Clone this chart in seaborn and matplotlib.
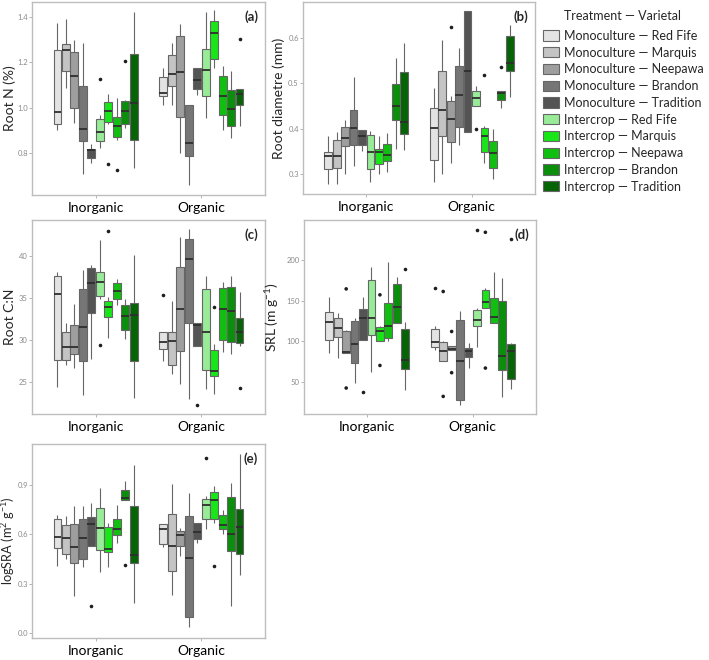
import matplotlib
matplotlib.use("Agg")
import matplotlib.pyplot as plt
from matplotlib.patches import Patch

## Import seaborn
import seaborn as sns
import pandas as pd

sns.set_theme(style="white")
# fonts have to be set after the theme
plt.rcParams['font.family'] = ['Lato', 'DejaVu Sans']
plt.rcParams['mathtext.default'] = 'regular'

ferts = ["Inorganic", "Organic"]
groups = ["Monoculture — Red Fife", "Monoculture — Marquis", "Monoculture — Neepawa",
          "Monoculture — Brandon", "Monoculture — Tradition",
          "Intercrop — Red Fife", "Intercrop — Marquis", "Intercrop — Neepawa",
          "Intercrop — Brandon", "Intercrop — Tradition"]
colours = ["#e3e3e3", "#c4c4c4", "#9e9e9e", "#767676", "#545454",
           "#98ec98", "#19e619", "#11bf11", "#0b8e0b", "#066406"]

## boxes: [lower whisker, Q1, median, Q3, upper whisker]
rootN_inorg = [[0.901, 0.928, 0.980, 1.256, 1.373], [1.087, 1.162, 1.256, 1.280, 1.393],
               [0.931, 0.998, 1.140, 1.248, 1.300], [0.705, 0.853, 0.904, 1.095, 1.285],
               [0.756, 0.775, 0.810, 0.817, 0.839], [0.820, 0.853, 0.891, 0.950, 0.968],
               [0.925, 0.934, 0.986, 1.023, 1.058], [0.856, 0.868, 0.919, 0.958, 1.040],
               [0.910, 0.926, 0.983, 1.028, 1.035], [0.730, 0.856, 1.020, 1.239, 1.425]]
rootN_org = [[1.013, 1.050, 1.065, 1.137, 1.177], [1.013, 1.095, 1.147, 1.233, 1.288],
             [0.797, 0.958, 1.157, 1.318, 1.370], [0.655, 0.785, 0.844, 1.013, 1.013],
             [1.057, 1.083, 1.122, 1.177, 1.177], [0.953, 1.050, 1.165, 1.261, 1.422],
             [1.177, 1.217, 1.329, 1.382, 1.434], [0.901, 0.965, 1.050, 1.142, 1.184],
             [0.864, 0.920, 0.995, 1.077, 1.162], [0.916, 1.010, 1.060, 1.083, 1.083]]
# outliers: (fertiliser, group index, value)
rootN_out = [("Inorganic", 5, 1.125), ("Inorganic", 6, 0.750), ("Inorganic", 7, 0.723),
             ("Inorganic", 8, 1.205), ("Organic", 9, 1.306)]

diam_inorg = [[0.277, 0.311, 0.339, 0.348, 0.383], [0.279, 0.313, 0.339, 0.374, 0.392],
              [0.299, 0.361, 0.379, 0.403, 0.419], [0.318, 0.363, 0.402, 0.441, 0.514],
              [0.350, 0.363, 0.384, 0.397, 0.397], [0.282, 0.310, 0.348, 0.386, 0.394],
              [0.301, 0.322, 0.348, 0.356, 0.383], [0.304, 0.328, 0.342, 0.367, 0.390],
              [0.355, 0.419, 0.450, 0.498, 0.555], [0.353, 0.389, 0.414, 0.524, 0.588]]
diam_org = [[0.283, 0.330, 0.401, 0.445, 0.489], [0.301, 0.383, 0.441, 0.527, 0.595],
            [0.324, 0.370, 0.422, 0.460, 0.471], [0.364, 0.403, 0.474, 0.538, 0.577],
            [0.392, 0.392, 0.527, 0.659, 0.659], [0.450, 0.450, 0.467, 0.483, 0.494],
            [0.324, 0.348, 0.383, 0.402, 0.406], [0.290, 0.313, 0.346, 0.372, 0.400],
            [0.445, 0.462, 0.478, 0.483, 0.483], [0.469, 0.527, 0.544, 0.604, 0.628]]
diam_out = [("Organic", 2, 0.623), ("Organic", 5, 0.399), ("Organic", 6, 0.518),
            ("Organic", 8, 0.535)]

cn_inorg = [[24.4, 27.6, 35.5, 37.6, 38.0], [27.0, 27.6, 29.2, 31.0, 32.0],
            [26.7, 28.3, 29.2, 31.8, 34.3], [23.5, 27.5, 31.5, 36.0, 38.3],
            [27.8, 33.2, 36.7, 38.5, 38.9], [34.8, 35.2, 36.9, 38.1, 41.8],
            [30.3, 32.7, 33.9, 34.6, 35.1], [34.2, 34.9, 35.8, 36.7, 37.2],
            [30.1, 31.2, 32.8, 34.1, 34.8], [23.2, 27.5, 33.0, 34.4, 40.1]]
cn_org = [[27.5, 29.0, 29.8, 31.0, 31.0], [26.0, 27.0, 29.9, 31.0, 34.6],
          [24.8, 28.7, 33.7, 38.7, 42.2], [23.0, 32.0, 39.6, 42.0, 43.1],
          [29.3, 29.3, 31.8, 32.0, 32.0], [24.2, 26.5, 31.0, 36.1, 37.6],
          [23.6, 25.8, 26.3, 28.8, 29.5], [28.6, 30.0, 33.7, 36.2, 36.9],
          [28.3, 29.8, 33.4, 36.3, 37.6], [29.3, 29.6, 31.0, 32.6, 35.7]]
cn_out = [("Inorganic", 5, 29.4), ("Inorganic", 6, 42.9), ("Organic", 0, 35.3),
          ("Organic", 4, 22.3), ("Organic", 6, 33.9), ("Organic", 9, 24.3)]

srl_inorg = [[85.6, 101.1, 123.2, 135.8, 154.2], [79.4, 104.8, 116.2, 128.5, 135.4],
             [86.0, 86.0, 87.2, 113.0, 113.4], [48.8, 73.3, 96.6, 124.4, 128.5],
             [101.1, 101.1, 128.5, 139.5, 155.0], [62.3, 108.0, 128.5, 175.5, 191.0],
             [100.0, 100.7, 112.1, 117.5, 118.3], [100.0, 104.0, 119.1, 147.7, 198.0],
             [122.4, 122.4, 142.0, 170.2, 179.6], [39.8, 66.4, 76.6, 115.0, 123.6]]
srl_org = [[89.7, 92.9, 98.7, 115.0, 119.1], [76.2, 76.2, 88.4, 99.1, 100.0],
           [88.8, 88.8, 90.5, 93.7, 94.6], [22.2, 27.5, 75.4, 126.4, 136.7],
           [67.2, 80.7, 87.6, 91.7, 97.8], [92.9, 118.3, 126.4, 138.7, 140.7],
           [140.7, 140.7, 148.9, 163.2, 165.3], [122.4, 122.4, 130.5, 153.0, 185.7],
           [31.2, 64.3, 81.5, 150.1, 178.3], [41.8, 53.7, 88.4, 97.0, 97.8]]
srl_out = [("Inorganic", 2, 164.4), ("Inorganic", 2, 42.7), ("Inorganic", 4, 37.8),
           ("Inorganic", 6, 157.1), ("Inorganic", 6, 70.4), ("Inorganic", 9, 189.0),
           ("Organic", 0, 166.1), ("Organic", 1, 161.2), ("Organic", 1, 32.4),
           ("Organic", 2, 112.1), ("Organic", 2, 61.5), ("Organic", 5, 236.8),
           ("Organic", 6, 233.9), ("Organic", 6, 67.2), ("Organic", 9, 225.7)]

sra_inorg = [[0.408, 0.518, 0.585, 0.695, 0.719], [0.452, 0.482, 0.578, 0.653, 0.709],
             [0.223, 0.428, 0.524, 0.659, 0.769], [0.402, 0.448, 0.574, 0.693, 0.769],
             [0.528, 0.528, 0.663, 0.703, 0.789], [0.372, 0.502, 0.639, 0.759, 0.880],
             [0.398, 0.492, 0.508, 0.645, 0.669], [0.548, 0.595, 0.629, 0.689, 0.779],
             [0.810, 0.810, 0.820, 0.870, 0.920], [0.183, 0.424, 0.472, 0.769, 1.021]]
sra_org = [[0.524, 0.542, 0.629, 0.663, 0.663], [0.231, 0.378, 0.528, 0.723, 0.906],
           [0.468, 0.528, 0.593, 0.619, 0.639], [0.036, 0.096, 0.458, 0.709, 0.850],
           [0.548, 0.572, 0.613, 0.669, 0.669], [0.629, 0.695, 0.779, 0.816, 0.830],
           [0.669, 0.695, 0.806, 0.856, 0.894], [0.599, 0.629, 0.655, 0.715, 0.749],
           [0.163, 0.498, 0.599, 0.824, 0.910], [0.351, 0.478, 0.645, 0.755, 1.087]]
sra_out = [("Inorganic", 4, 0.167), ("Inorganic", 8, 0.412), ("Organic", 5, 1.065),
           ("Organic", 6, 0.404)]

# panel settings: letter, y label, label size, data, y limits, y ticks,
# axes rect in pixels (x0, y0, x1, y1 from top-left), y label gap in pixels
panels = [
    ("(a)", "Root N (%)", 10, rootN_inorg, rootN_org, rootN_out, (0.612, 1.468), [0.8, 1.0, 1.2, 1.4], "{:.1f}", (32, 2, 265, 195), 16),
    ("(b)", "Root diametre (mm)", 10, diam_inorg, diam_org, diam_out, (0.256, 0.679), [0.3, 0.4, 0.5, 0.6], "{:.1f}", (303, 2, 535, 194), 18),
    ("(c)", "Root C:N", 10, cn_inorg, cn_org, cn_out, (21.26, 44.2), [25, 30, 35, 40], "{:.0f}", (32, 220, 265, 414), 16),
    ("(d)", "SRL (m g$^{-1}$)", 10, srl_inorg, srl_org, srl_out, (10.8, 249), [50, 100, 150, 200], "{:.0f}", (304, 220, 536, 414), 23),
    ("(e)", "logSRA (m$^{2}$ g$^{-1}$)", 9.2, sra_inorg, sra_org, sra_out, (-0.03, 1.147), [0.0, 0.3, 0.6, 0.9], "{:.1f}", (32, 444, 265, 638), 15),
]

W, H = 709, 660
fig = plt.figure(figsize=(W / 100, H / 100), dpi=100)


def make_frames(inorg, org, outl):
    rows = []
    for fert, boxes in zip(ferts, [inorg, org]):
        for g, (lo, q1, med, q3, hi) in zip(groups, boxes):
            # repeat quartiles so the box edges land on the values read
            for v in [lo] + [q1] * 4 + [med] * 4 + [q3] * 4 + [hi]:
                rows.append((fert, g, v))
    box_df = pd.DataFrame(rows, columns=["fert", "group", "value"])
    out_df = pd.DataFrame([(f, groups[i], v) for f, i, v in outl],
                          columns=["fert", "group", "value"])
    return box_df, out_df


for letter, ylab, lsize, inorg, org, outl, ylim, yticks, fmt, (x0, y0, x1, y1), gap in panels:
    ax = fig.add_axes([x0 / W, 1 - y1 / H, (x1 - x0) / W, (y1 - y0) / H])
    box_df, out_df = make_frames(inorg, org, outl)
    sns.boxplot(data=box_df, x="fert", y="value", hue="group", order=ferts, hue_order=groups,
                palette=colours, saturation=1, width=0.8, gap=0.08, whis=(0, 100),
                showfliers=False, showcaps=False, linecolor="#666666", linewidth=0.8,
                medianprops=dict(color="#2e2e2e", linewidth=1.3), legend=False, ax=ax)
    sns.stripplot(data=out_df, x="fert", y="value", hue="group", order=ferts, hue_order=groups,
                  palette=["#1e1e1e"] * len(groups), dodge=True, jitter=False, size=2.6,
                  legend=False, ax=ax)
    ax.set_xlim(-0.6, 1.6)
    ax.set_ylim(*ylim)
    ax.set_yticks(yticks)
    ax.set_yticklabels([fmt.format(t) for t in yticks])
    ax.set_xlabel(None)
    ax.set_ylabel(ylab, fontsize=lsize)
    ax.yaxis.set_label_coords(-gap / (x1 - x0), 0.5)
    ax.tick_params(axis="y", labelsize=5.5, labelcolor="#8a8a8a", color="#a8a8a8",
                   length=2, width=0.6, pad=1, left=True)
    ax.tick_params(axis="x", labelsize=10, labelcolor="black", color="#a8a8a8",
                   length=2.5, width=0.6, pad=2.5, bottom=True)
    for s in ax.spines.values():
        s.set_color("#bdbdbd")
        s.set_linewidth(1.0)
    ax.text(0.97, 0.955, letter, transform=ax.transAxes, ha="right", va="top",
            fontsize=9.5, fontweight="bold")

handles = [Patch(facecolor=c, edgecolor="#666666", linewidth=0.8) for c in colours]
leg = fig.legend(handles, groups, title="Treatment — Varietal", loc="upper left",
                 bbox_to_anchor=(540 / W, 1 - 7 / H), frameon=False, fontsize=9,
                 title_fontsize=9, handlelength=1.3, handleheight=0.9, handletextpad=0.4,
                 labelspacing=0.38, borderaxespad=0, borderpad=0.2)
leg._legend_box.sep = 6

plt.savefig("out.png", dpi=100)
